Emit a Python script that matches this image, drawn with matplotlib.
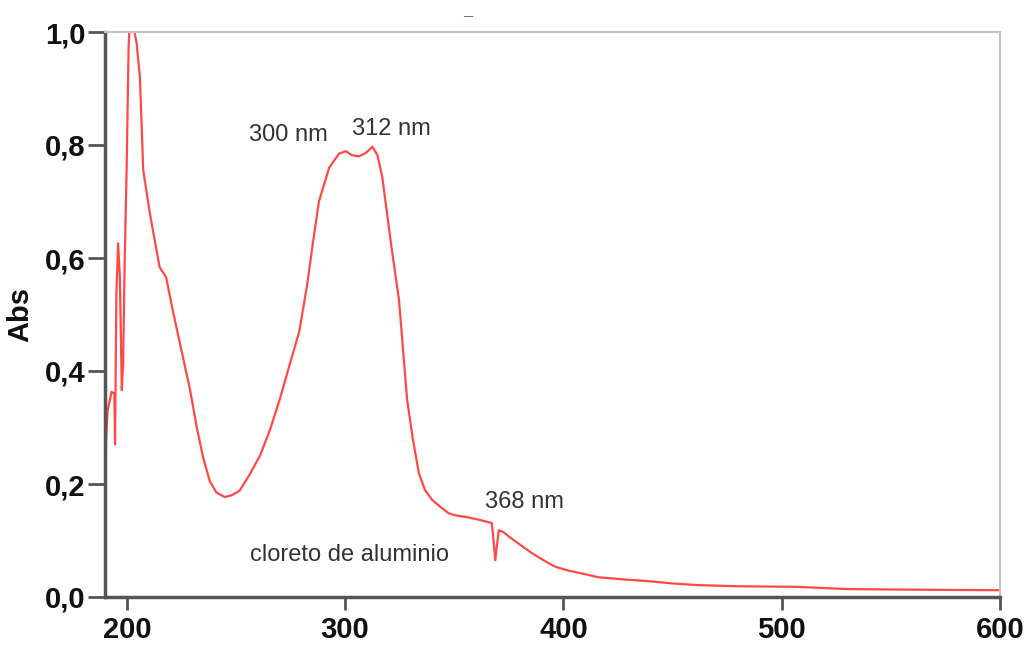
import matplotlib
matplotlib.use("Agg")
import matplotlib.pyplot as plt
from matplotlib.ticker import FuncFormatter

# Spectrum data (wavelength nm, absorbance)
wavelength = [190.0, 190.5, 191.2, 193.0, 194.3, 194.6, 195.2, 196.0, 196.8, 197.7,
              198.3, 199.0, 199.9, 200.8, 201.5, 202.5, 203.5, 204.5, 206.0, 207.5,
              210.5, 215.0, 218.0, 221.0, 225.0, 229.0, 232.0, 235.0, 238.0, 241.0,
              244.8, 248.0, 251.6, 256.0, 261.0, 265.5, 270.0, 274.5, 279.0, 282.5,
              285.0, 288.0, 292.7, 297.3, 300.4, 303.0, 306.4, 309.5, 312.5, 314.8,
              317.0, 319.0, 321.0, 324.7, 328.4, 331.0, 333.8, 336.5, 339.8, 343.5,
              347.5, 351.0, 355.0, 361.0, 367.2, 368.0, 368.8, 369.5, 370.4, 372.5,
              375.0, 380.0, 385.4, 390.5, 396.0, 402.0, 408.0, 416.0, 428.0, 439.0,
              450.0, 461.7, 480.0, 507.0, 530.0, 560.0, 600.0]
absorbance = [0.11, 0.28, 0.33, 0.363, 0.36, 0.27, 0.535, 0.626, 0.566, 0.366,
              0.414, 0.59, 0.756, 0.97, 1.04, 1.05, 1.0, 0.98, 0.92, 0.756,
              0.68, 0.584, 0.566, 0.508, 0.437, 0.366, 0.301, 0.246, 0.205, 0.185,
              0.177, 0.18, 0.188, 0.215, 0.25, 0.295, 0.349, 0.41, 0.47, 0.55,
              0.62, 0.70, 0.76, 0.785, 0.789, 0.782, 0.78, 0.786, 0.797, 0.782,
              0.744, 0.685, 0.626, 0.525, 0.349, 0.28, 0.219, 0.19, 0.172, 0.16,
              0.148, 0.144, 0.142, 0.137, 0.131, 0.10, 0.065, 0.09, 0.118, 0.115,
              0.107, 0.093, 0.078, 0.066, 0.054, 0.047, 0.042, 0.035, 0.031, 0.028,
              0.024, 0.021, 0.019, 0.018, 0.014, 0.013, 0.012]

x_ticks = [200, 300, 400, 500, 600]
y_ticks = [0.0, 0.2, 0.4, 0.6, 0.8, 1.0]

annotations = [("300 nm", 274, 0.817), ("312 nm", 321, 0.828),
               ("368 nm", 382, 0.169), ("cloreto de aluminio", 302, 0.075)]

fig = plt.figure(figsize=(10.3, 6.48), dpi=100)
ax = fig.add_axes([105/1030, 1 - 597/648, 895/1030, 565/648])

ax.plot(wavelength, absorbance, color="#ff4848", lw=1.6)
ax.set_xlim(190, 600)
ax.set_ylim(0, 1.0)

ax.set_xticks(x_ticks)
ax.set_yticks(y_ticks)
ax.yaxis.set_major_formatter(FuncFormatter(lambda v, p: f"{v:.1f}".replace(".", ",")))
ax.xaxis.set_major_formatter(FuncFormatter(lambda v, p: f"{v:.0f}"))

for lab in ax.get_xticklabels() + ax.get_yticklabels():
    lab.set_fontfamily("Liberation Sans")
    lab.set_fontweight("bold")
    lab.set_fontsize(21)
    lab.set_color("#111111")

ax.tick_params(axis="y", direction="out", length=12, width=2, color="#555555", pad=2)
ax.tick_params(axis="x", direction="out", length=9, width=2, color="#555555", pad=5)

for s in ["left", "bottom"]:
    ax.spines[s].set_color("#555555")
    ax.spines[s].set_linewidth(2.5)
for s in ["top", "right"]:
    ax.spines[s].set_color("#c4c4c4")
    ax.spines[s].set_linewidth(1.5)

ax.set_ylabel("Abs", fontfamily="Liberation Sans", fontweight="bold", fontsize=21,
              color="#111111", labelpad=8)

for txt, xv, yv in annotations:
    ax.text(xv, yv, txt, fontfamily="Liberation Sans", fontsize=17, color="#333333",
            ha="center", va="center")

fig.text(468/1030, 1 - 18/648, "_", fontfamily="Liberation Sans", fontsize=12,
         fontweight="bold", color="#666666", ha="center", va="bottom")

fig.savefig("out.png", dpi=100, facecolor="white")
